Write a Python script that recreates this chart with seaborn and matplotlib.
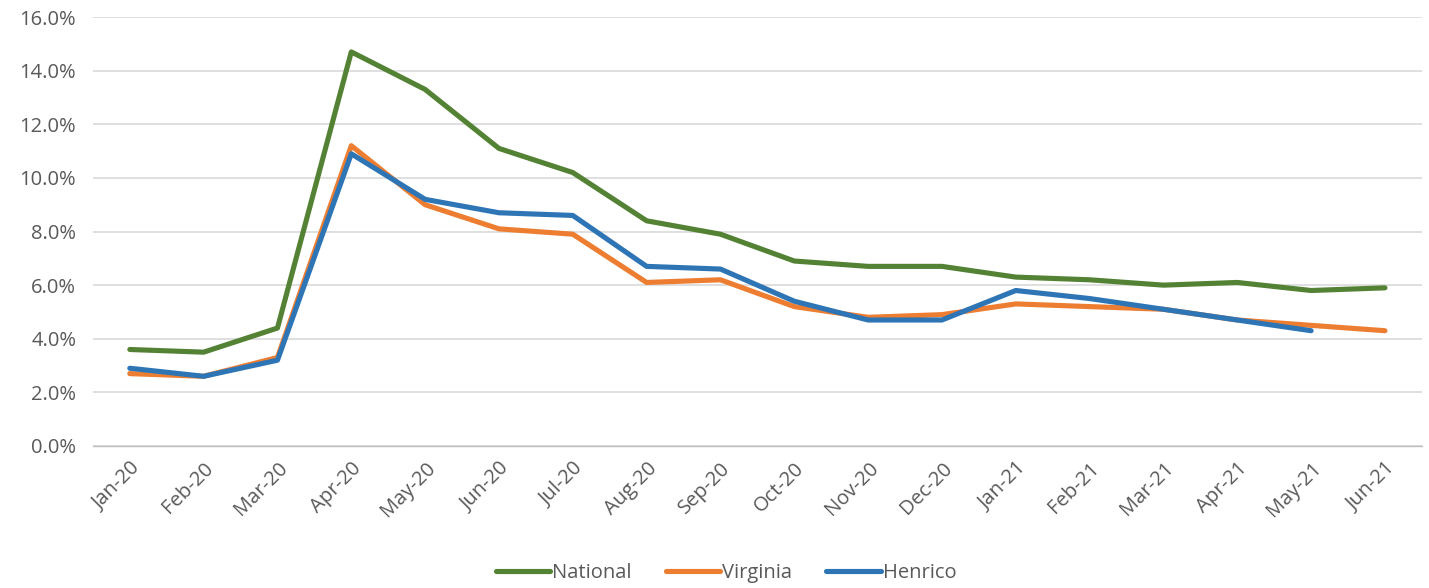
import numpy as np
import pandas as pd
import matplotlib
matplotlib.use("Agg")
import matplotlib.pyplot as plt
import seaborn as sns
from matplotlib.ticker import PercentFormatter, FixedLocator

months = ["Jan-20", "Feb-20", "Mar-20", "Apr-20", "May-20", "Jun-20", "Jul-20",
          "Aug-20", "Sep-20", "Oct-20", "Nov-20", "Dec-20", "Jan-21", "Feb-21",
          "Mar-21", "Apr-21", "May-21", "Jun-21"]
national = [3.6, 3.5, 4.4, 14.7, 13.3, 11.1, 10.2, 8.4, 7.9, 6.9, 6.7, 6.7,
            6.3, 6.2, 6.0, 6.1, 5.8, 5.9]
virginia = [2.7, 2.6, 3.3, 11.2, 9.0, 8.1, 7.9, 6.1, 6.2, 5.2, 4.8, 4.9,
            5.3, 5.2, 5.1, 4.7, 4.5, 4.3]
henrico = [2.9, 2.6, 3.2, 10.9, 9.2, 8.7, 8.6, 6.7, 6.6, 5.4, 4.7, 4.7,
           5.8, 5.5, 5.1, 4.7, 4.3, np.nan]

series = {"National": national, "Virginia": virginia, "Henrico": henrico}
df = pd.concat([pd.DataFrame({"Month": months, "Rate": vals, "Area": name})
                for name, vals in series.items()], ignore_index=True)
df["x"] = df["Month"].map({m: i for i, m in enumerate(months)})

sns.set_theme(style="white")
plt.rcParams["font.family"] = ["Open Sans", "DejaVu Sans"]

palette = {"National": "#548235", "Virginia": "#ED7D31", "Henrico": "#2E75B6"}
text_color = "#595959"
fs = 14.5

fig = plt.figure(figsize=(14.29, 5.88), dpi=100)
ax = fig.add_axes([0.065, 0.2415, 0.930, 0.7295])

sns.lineplot(data=df, x="x", y="Rate", hue="Area", palette=palette,
             linewidth=3.7, ax=ax, solid_capstyle="round", legend=True)

ax.set_xlim(-0.5, len(months) - 0.5)
ax.set_ylim(0, 16)
ax.set_yticks(np.arange(0, 16.1, 2))
ax.yaxis.set_major_formatter(PercentFormatter(decimals=1))
ax.set_xticks(range(len(months)))
ax.set_xticklabels(months, rotation=45, ha="right", rotation_mode="anchor")
ax.xaxis.set_minor_locator(FixedLocator(np.arange(-0.5, len(months), 1)))
ax.tick_params(axis="x", which="major", length=0, pad=9, labelsize=fs, colors=text_color)
ax.tick_params(axis="x", which="minor", length=8, width=1, color="#BFBFBF", direction="out")
ax.tick_params(axis="y", length=0, pad=12, labelsize=fs, colors=text_color)
ax.grid(axis="y", color="#D9D9D9", linewidth=1.2)
ax.set_axisbelow(True)
ax.set_xlabel("")
ax.set_ylabel("")
for s in ["top", "right", "left"]:
    ax.spines[s].set_visible(False)
ax.spines["bottom"].set_color("#BFBFBF")
ax.spines["bottom"].set_linewidth(1)

handles, labels = ax.get_legend_handles_labels()
ax.get_legend().remove()
fig.legend(handles, labels, loc="center", bbox_to_anchor=(0.508, 0.025),
           ncol=3, frameon=False, fontsize=fs, handlelength=2.7,
           handletextpad=0.1, columnspacing=1.7, labelcolor=text_color)

fig.savefig("out.png", dpi=100)
